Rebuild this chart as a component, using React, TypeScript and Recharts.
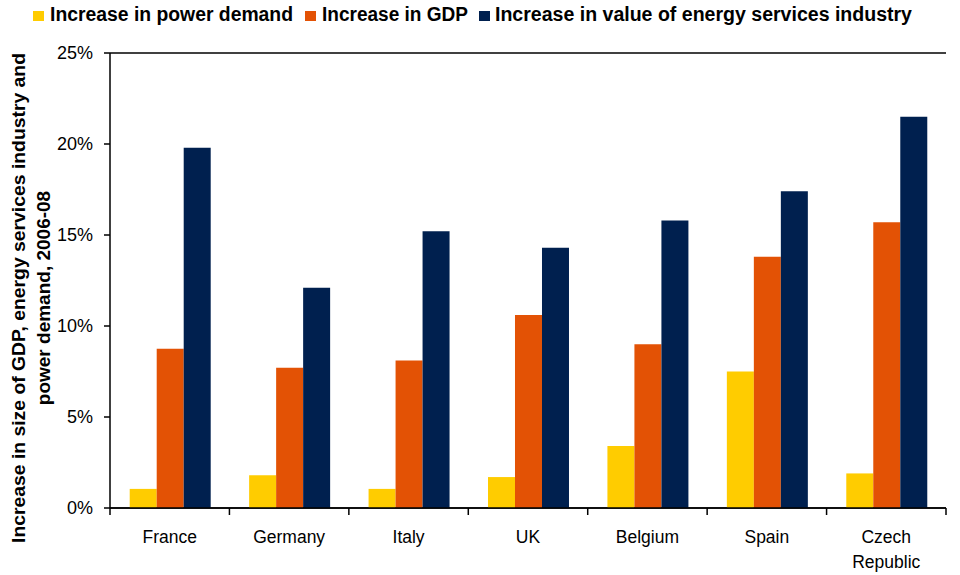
import React from 'react';
import { BarChart, Bar, XAxis, YAxis, CartesianGrid } from 'recharts';

const countries = ['France', 'Germany', 'Italy', 'UK', 'Belgium', 'Spain', 'Czech Republic'];
const powerDemand = [1.05, 1.8, 1.05, 1.7, 3.4, 7.5, 1.9];
const gdp = [8.75, 7.7, 8.1, 10.6, 9.0, 13.8, 15.7];
const energyServices = [19.8, 12.1, 15.2, 14.3, 15.8, 17.4, 21.5];
const yTicks = [0, 5, 10, 15, 20, 25];

const SERIES = [
    { key: 'power', name: 'Increase in power demand', color: '#FFCC00', box: 33, text: 50, width: 243 },
    { key: 'gdp', name: 'Increase in GDP', color: '#E35205', box: 305, text: 322, width: 146 },
    { key: 'energy', name: 'Increase in value of energy services industry', color: '#00204F', box: 479, text: 495, width: 417 },
];

const data = countries.map((name, i) => ({
    name,
    power: powerDemand[i],
    gdp: gdp[i],
    energy: energyServices[i],
}));

const FONT = '"Liberation Sans", Arial, sans-serif';

// category label plus the little tick marks that sit on the category boundaries
const CountryTick = (props: any) => {
    const { x, y, payload, index, visibleTicksCount, width } = props;
    const half = payload.offset || width / (2 * (visibleTicksCount || countries.length));
    const words: string[] = payload.value.length > 10 ? payload.value.split(' ') : [payload.value];
    const isLast = index === (visibleTicksCount || countries.length) - 1;
    return (
        <g>
            <line x1={x - half} x2={x - half} y1={y} y2={y + 7} stroke="#000" strokeWidth={1.5} />
            {isLast && <line x1={x + half} x2={x + half} y1={y} y2={y + 7} stroke="#000" strokeWidth={1.5} />}
            <text x={x} y={y + 35} textAnchor="middle" fontFamily={FONT} fontSize={17.5} fill="#000">
                {words.map((w, i) => (
                    <tspan key={w} x={x} dy={i === 0 ? 0 : 25}>{w}</tspan>
                ))}
            </text>
        </g>
    );
};

const App: React.FC = () => {
    return (
        <div style={{ position: 'absolute', left: 0, top: 0, width: 960, height: 575, background: '#fff' }}>
            <BarChart width={960} height={575} data={data} margin={{ top: 53, right: 14, bottom: 0, left: 50 }} barCategoryGap="16.5%" barGap={0}>
                <CartesianGrid horizontal vertical={false} stroke="#000" strokeWidth={1.3} />
                <XAxis dataKey="name" tick={<CountryTick />} tickLine={false} tickSize={0} tickMargin={0} axisLine={{ stroke: '#000', strokeWidth: 1.5 }} interval={0} height={67} />
                <YAxis yAxisId="left" domain={[0, 25]} ticks={yTicks} tickFormatter={(v: number) => `${v}%`} width={60} tickSize={6} tickMargin={11} tick={{ fontFamily: FONT, fontSize: 18, fill: '#000' }} tickLine={{ stroke: '#000', strokeWidth: 1.5 }} axisLine={{ stroke: '#000', strokeWidth: 1.5 }} />
                <YAxis yAxisId="right" orientation="right" domain={[0, 25]} tick={false} tickLine={false} width={0} axisLine={{ stroke: '#000', strokeWidth: 1.5 }} />
                {SERIES.map(s => (
                    <Bar key={s.key} dataKey={s.key} name={s.name} fill={s.color} yAxisId="left" isAnimationActive={false} />
                ))}
            </BarChart>
            <svg style={{ position: 'absolute', left: 0, top: 0 }} width={960} height={575} pointerEvents="none">
                {SERIES.map(s => (
                    <g key={s.key}>
                        <rect x={s.box} y={11} width={11} height={10} fill={s.color} />
                        <text x={s.text} y={21} fontFamily={FONT} fontWeight="bold" fontSize={20} textLength={s.width} lengthAdjust="spacingAndGlyphs" fill="#000">{s.name}</text>
                    </g>
                ))}
                <text transform="translate(18,298) rotate(-90)" textAnchor="middle" fontFamily={FONT} fontWeight="bold" fontSize={19} textLength={490} lengthAdjust="spacingAndGlyphs" fill="#000">
                    <tspan x={0} dy={7}>Increase in size of GDP, energy services industry and</tspan>
                </text>
                <text transform="translate(18,298) rotate(-90)" textAnchor="middle" fontFamily={FONT} fontWeight="bold" fontSize={19} fill="#000">
                    <tspan x={0} dy={32}>power demand,  2006-08</tspan>
                </text>
            </svg>
        </div>
    );
};

export default App;
